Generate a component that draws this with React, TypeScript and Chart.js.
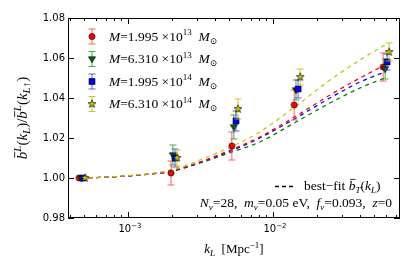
import React, { useEffect, useRef } from 'react';
import { Chart, registerables } from 'chart.js';
Chart.register(...registerables);

// ---------- data ----------
const kRed = [4.6e-4, 1.98e-3, 5.2e-3, 1.4e-2, 5.75e-2];
const kGreen = [4.75e-4, 2.04e-3, 5.37e-3, 1.44e-2, 5.93e-2];
const kBlue = [4.9e-4, 2.11e-3, 5.55e-3, 1.49e-2, 6.12e-2];
const kYellow = [5.05e-4, 2.18e-3, 5.73e-3, 1.54e-2, 6.32e-2];

const valRed = [1.0, 1.0025, 1.016, 1.0365, 1.0555];
const errRed = [0.0, 0.006, 0.007, 0.0075, 0.007];
const valGreen = [1.0, 1.0115, 1.0255, 1.044, 1.0545];
const errGreen = [0.0, 0.005, 0.006, 0.005, 0.005];
const valBlue = [1.0, 1.01, 1.0285, 1.0445, 1.058];
const errBlue = [0.0, 0.0045, 0.005, 0.0045, 0.004];
const valYellow = [1.0, 1.01, 1.0345, 1.0505, 1.063];
const errYellow = [0.0, 0.004, 0.005, 0.004, 0.0045];

const kCurve = [4.7e-4, 6.4e-4, 1.0e-3, 1.42e-3, 2.0e-3, 3.14e-3, 5.3e-3, 8.1e-3, 1.44e-2, 2.47e-2, 3.98e-2, 5.9e-2];
const curveRed = [1.0, 1.0003, 1.001, 1.002, 1.0035, 1.008, 1.0145, 1.0205, 1.031, 1.0415, 1.05, 1.0565];
const curveGreen = [1.0, 1.0003, 1.001, 1.002, 1.0033, 1.0075, 1.0132, 1.018, 1.028, 1.0375, 1.045, 1.05];
const curveBlue = [1.0, 1.0003, 1.001, 1.002, 1.0034, 1.0078, 1.014, 1.02, 1.03, 1.04, 1.048, 1.053];
const curveYellow = [1.0, 1.0003, 1.0012, 1.0022, 1.004, 1.009, 1.016, 1.023, 1.036, 1.049, 1.059, 1.0665];

const massLabels = ['1.995', '6.310', '1.995', '6.310'];
const massExps = ['13', '13', '14', '14'];

const yTicks = [0.98, 1.0, 1.02, 1.04, 1.06, 1.08];
const yTickLabels = ['0.98', '1.00', '1.02', '1.04', '1.06', '1.08'];
const xTicks = [1e-3, 1e-2];
const xTickExps = ['−3', '−2'];

const X_MIN = 3.856e-4;
const X_MAX = 0.0751;
const Y_MIN = 0.98;
const Y_MAX = 1.08;

const SERIF = '"Liberation Serif", "DejaVu Serif", serif';
const SANS = '"DejaVu Sans", sans-serif';

type Seg = { t: string; it?: boolean; sc?: number; bar?: boolean };

function drawMath(ctx: CanvasRenderingContext2D, segs: Seg[], x: number, y: number, size: number, align: string, family: string) {
  const fontOf = (s: Seg) => `${s.it ? 'italic ' : ''}${s.sc ? Math.round(size * 0.7) : size}px ${family}`;
  const widths = segs.map((s) => {
    ctx.font = fontOf(s);
    return ctx.measureText(s.t).width;
  });
  const total = widths.reduce((a, b) => a + b, 0);
  let cx = align === 'left' ? x : align === 'right' ? x - total : x - total / 2;
  const base = y + size * 0.33;
  ctx.textAlign = 'left';
  ctx.textBaseline = 'alphabetic';
  segs.forEach((s, i) => {
    ctx.font = fontOf(s);
    let yy = base;
    if (s.sc === 1) yy = base - size * 0.42;
    if (s.sc === -1) yy = base + size * 0.22;
    ctx.fillText(s.t, cx, yy);
    if (s.bar) {
      ctx.beginPath();
      ctx.lineWidth = 0.8;
      ctx.moveTo(cx + widths[i] * 0.2, base - size * 0.82);
      ctx.lineTo(cx + widths[i] * 1.0, base - size * 0.82);
      ctx.stroke();
    }
    cx += widths[i];
  });
}

function starPath(ctx: CanvasRenderingContext2D, x: number, y: number, ro: number, ri: number) {
  ctx.beginPath();
  for (let i = 0; i < 10; i++) {
    const r = i % 2 === 0 ? ro : ri;
    const a = -Math.PI / 2 + (i * Math.PI) / 5;
    const px = x + r * Math.cos(a);
    const py = y + r * Math.sin(a);
    if (i === 0) ctx.moveTo(px, py);
    else ctx.lineTo(px, py);
  }
  ctx.closePath();
}

function drawMarker(ctx: CanvasRenderingContext2D, kind: string, x: number, y: number, fill: string) {
  ctx.save();
  ctx.fillStyle = fill;
  ctx.strokeStyle = '#000';
  ctx.lineWidth = 0.6;
  ctx.beginPath();
  if (kind === 'circle') ctx.arc(x, y, 3.1, 0, Math.PI * 2);
  else if (kind === 'tri') {
    ctx.moveTo(x - 3.6, y - 2.2);
    ctx.lineTo(x + 3.6, y - 2.2);
    ctx.lineTo(x, y + 3.8);
    ctx.closePath();
  } else if (kind === 'rect') ctx.rect(x - 3, y - 3, 6, 6);
  else starPath(ctx, x, y, 4.2, 1.8);
  ctx.fill();
  ctx.stroke();
  ctx.restore();
}

const SERIES = [
  { k: kYellow, v: valYellow, e: errYellow, fill: '#bfbf00', err: 'rgba(191,191,0,0.85)', kind: 'star', legend: 3 },
  { k: kBlue, v: valBlue, e: errBlue, fill: '#0000ff', err: 'rgba(40,40,255,0.75)', kind: 'rect', legend: 2 },
  { k: kGreen, v: valGreen, e: errGreen, fill: '#006400', err: 'rgba(40,160,40,0.85)', kind: 'tri', legend: 1 },
  { k: kRed, v: valRed, e: errRed, fill: '#ff0000', err: 'rgba(255,60,60,0.8)', kind: 'circle', legend: 0 },
];
const CURVES = [
  { v: curveYellow, color: '#c8c800' },
  { v: curveRed, color: '#ff0000' },
  { v: curveBlue, color: '#0000ff' },
  { v: curveGreen, color: '#008000' },
];

export default function App() {
  const ref = useRef<HTMLCanvasElement>(null);
  useEffect(() => {
    document.body.style.margin = '0';
    const canvas = ref.current!;

    const mkImg = (kind: string, fill: string) => {
      const c = document.createElement('canvas');
      c.width = 12;
      c.height = 12;
      const g = c.getContext('2d')!;
      drawMarker(g, kind, 6, 6, fill);
      return c;
    };

    const datasets: any[] = SERIES.map((s) => ({
      type: 'scatter',
      data: s.k.map((k, i) => ({ x: k, y: s.v[i] })),
      pointStyle: mkImg(s.kind, s.fill),
      pointRadius: 4,
      showLine: false,
    }));
    CURVES.forEach((c) => {
      datasets.push({
        type: 'line',
        data: kCurve.map((k, i) => ({ x: k, y: c.v[i] })),
        borderColor: c.color,
        borderWidth: 1.3,
        borderDash: [4, 4],
        pointRadius: 0,
        cubicInterpolationMode: 'monotone',
        fill: false,
      });
    });

    const overlay = {
      id: 'overlay',
      beforeDatasetDraw(chart: any, args: any) {
        const s = SERIES[args.index];
        if (!s) return;
        const ctx = chart.ctx as CanvasRenderingContext2D;
        const xs = chart.scales.x;
        const ys = chart.scales.y;
        ctx.save();
        ctx.strokeStyle = s.err;
        ctx.lineWidth = 1;
        s.k.forEach((k, i) => {
          if (!s.e[i]) return;
          const px = xs.getPixelForValue(k);
          const y1 = ys.getPixelForValue(s.v[i] + s.e[i]);
          const y2 = ys.getPixelForValue(s.v[i] - s.e[i]);
          ctx.beginPath();
          ctx.moveTo(px, y1);
          ctx.lineTo(px, y2);
          ctx.moveTo(px - 3.5, y1);
          ctx.lineTo(px + 3.5, y1);
          ctx.moveTo(px - 3.5, y2);
          ctx.lineTo(px + 3.5, y2);
          ctx.stroke();
        });
        ctx.restore();
      },
      afterDraw(chart: any) {
        const ctx = chart.ctx as CanvasRenderingContext2D;
        const a = chart.chartArea;
        const xs = chart.scales.x;
        const ys = chart.scales.y;
        ctx.save();
        ctx.fillStyle = '#000';
        ctx.strokeStyle = '#000';
        // frame
        ctx.lineWidth = 1;
        ctx.strokeRect(a.left + 0.5, a.top + 0.5, a.right - a.left - 1, a.bottom - a.top - 1);
        // y ticks
        ctx.lineWidth = 1;
        yTicks.forEach((t, i) => {
          const py = Math.round(ys.getPixelForValue(t)) + 0.5;
          ctx.beginPath();
          ctx.moveTo(a.left, py);
          ctx.lineTo(a.left + 6, py);
          ctx.moveTo(a.right, py);
          ctx.lineTo(a.right - 6, py);
          ctx.stroke();
          ctx.font = `10px ${SANS}`;
          ctx.textAlign = 'right';
          ctx.textBaseline = 'middle';
          ctx.fillText(yTickLabels[i], a.left - 3, py);
        });
        // x ticks (log)
        for (let d = -4; d <= -1; d++) {
          for (let m = 1; m <= 9; m++) {
            const v = m * Math.pow(10, d);
            if (v < X_MIN || v > X_MAX) continue;
            const px = Math.round(xs.getPixelForValue(v)) + 0.5;
            const len = m === 1 ? 6 : 3;
            ctx.beginPath();
            ctx.moveTo(px, a.bottom);
            ctx.lineTo(px, a.bottom - len);
            ctx.moveTo(px, a.top);
            ctx.lineTo(px, a.top + len);
            ctx.stroke();
          }
        }
        xTicks.forEach((t, i) => {
          const px = xs.getPixelForValue(t);
          drawMath(ctx, [{ t: '10' }, { t: xTickExps[i], sc: 1 }], px + 2, a.bottom + 11, 10, 'center', SANS);
        });
        // axis labels
        drawMath(ctx, [{ t: 'k', it: true }, { t: 'L', it: true, sc: -1 }, { t: '  [Mpc' }, { t: '−1', sc: 1 }, { t: ']' }],
          (a.left + a.right) / 2, a.bottom + 31, 13, 'center', SERIF);
        ctx.save();
        ctx.translate(22, (a.top + a.bottom) / 2);
        ctx.rotate(-Math.PI / 2);
        drawMath(ctx, [
          { t: 'b', it: true, bar: true }, { t: 'L', it: true, sc: 1 }, { t: '(' }, { t: 'k', it: true }, { t: 'L', it: true, sc: -1 },
          { t: ')/' }, { t: 'b', it: true, bar: true }, { t: 'L', it: true, sc: 1 }, { t: '(' }, { t: 'k', it: true },
          { t: 'L↑', it: true, sc: -1 }, { t: ')' },
        ], 0, 0, 15, 'center', SERIF);
        ctx.restore();
        // legend
        const order = [3, 2, 1, 0];
        order.forEach((si, row) => {
          const s = SERIES[si];
          const ly = 36.5 + row * 22.5;
          const lx = 92;
          ctx.save();
          ctx.strokeStyle = s.err;
          ctx.lineWidth = 1;
          ctx.beginPath();
          ctx.moveTo(lx, ly - 7.5);
          ctx.lineTo(lx, ly + 7.5);
          ctx.moveTo(lx - 3.5, ly - 7.5);
          ctx.lineTo(lx + 3.5, ly - 7.5);
          ctx.moveTo(lx - 3.5, ly + 7.5);
          ctx.lineTo(lx + 3.5, ly + 7.5);
          ctx.stroke();
          ctx.restore();
          drawMarker(ctx, s.kind, lx, ly, s.fill);
          ctx.fillStyle = '#000';
          ctx.strokeStyle = '#000';
          drawMath(ctx, [
            { t: 'M', it: true }, { t: '=' + massLabels[row] + ' ×10' }, { t: massExps[row], sc: 1 }, { t: '  ' },
            { t: 'M', it: true }, { t: '⊙', sc: -1 },
          ], 109, ly, 13.5, 'left', SERIF);
        });
        // best-fit legend
        ctx.save();
        ctx.setLineDash([4, 3]);
        ctx.lineWidth = 1.3;
        ctx.beginPath();
        ctx.moveTo(275, 186.5);
        ctx.lineTo(293, 186.5);
        ctx.stroke();
        ctx.restore();
        drawMath(ctx, [
          { t: 'best−fit ' }, { t: 'b', it: true, bar: true }, { t: 'T', it: true, sc: -1 }, { t: '(' }, { t: 'k', it: true },
          { t: 'L', it: true, sc: -1 }, { t: ')' },
        ], 304, 186, 13.5, 'left', SERIF);
        drawMath(ctx, [
          { t: 'N', it: true }, { t: 'ν', it: true, sc: -1 }, { t: '=28,  ' }, { t: 'm', it: true }, { t: 'ν', it: true, sc: -1 },
          { t: '=0.05 eV,  ' }, { t: 'f', it: true }, { t: 'ν', it: true, sc: -1 }, { t: '=0.093,  ' }, { t: 'z', it: true }, { t: '=0' },
        ], 392, 203, 13.5, 'right', SERIF);
        ctx.restore();
      },
    };

    const chart = new Chart(canvas, {
      type: 'scatter',
      data: { datasets },
      options: {
        animation: false,
        responsive: false,
        devicePixelRatio: 1,
        layout: { padding: { left: 68, top: 18, right: 13, bottom: 57 } },
        plugins: { legend: { display: false }, tooltip: { enabled: false } },
        scales: {
          x: { type: 'logarithmic', min: X_MIN, max: X_MAX, display: false },
          y: { type: 'linear', min: Y_MIN, max: Y_MAX, display: false },
        },
      },
      plugins: [overlay],
    } as any);
    return () => chart.destroy();
  }, []);
  return <canvas ref={ref} width={413} height={275} style={{ display: 'block', width: 413, height: 275 }} />;
}
